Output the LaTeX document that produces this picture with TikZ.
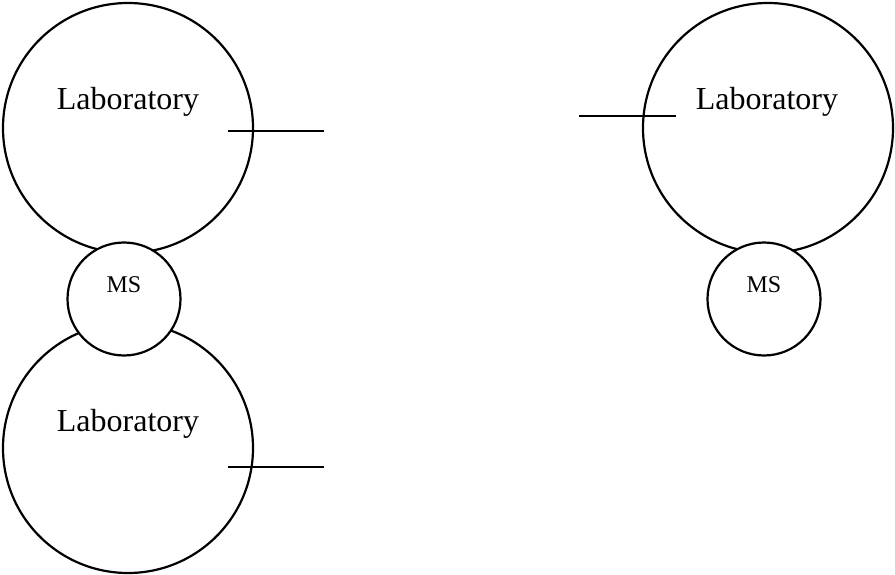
\documentclass[tikz,border=0pt]{standalone}
\usepackage{fontspec}
\setmainfont{Liberation Serif}
\begin{document}
\begin{tikzpicture}[x=1pt,y=-1pt,
  lab/.style={circle,draw,line width=2.2pt,minimum size=250pt,inner sep=0pt},
  ms/.style={circle,draw,line width=2.2pt,minimum size=113pt,inner sep=0pt,fill=white},
  labtext/.style={anchor=base,inner sep=0pt,font=\fontsize{32}{36}\selectfont},
  mstext/.style={anchor=base,inner sep=0pt,font=\fontsize{24}{28}\selectfont},
  stub/.style={line width=1.5pt}]
\useasboundingbox (0,0) rectangle (895,575);

% left column: two laboratories sharing one MS
\node[lab] (labA) at (128,128) {};
\node[lab] (labB) at (128,448) {};
\node[ms]  (msL)  at (124,299) {};
\node[labtext] (labAtxt) at (128,110) {Laboratory};
\node[labtext] (labBtxt) at (128,431) {Laboratory};
\node[mstext]  (msLtxt)  at (124,292) {MS};

% right column: one laboratory with its MS
\node[lab] (labC) at (768,128) {};
\node[ms]  (msR)  at (764,299) {};
\node[labtext] (labCtxt) at (767,110) {Laboratory};
\node[mstext]  (msRtxt)  at (764,292) {MS};

% interface stubs
\coordinate (a1) at (228,131); \coordinate (a2) at (324,131);
\coordinate (b1) at (228,467); \coordinate (b2) at (324,467);
\coordinate (c1) at (579,116); \coordinate (c2) at (676,116);
\draw[stub] (a1) -- (a2);
\draw[stub] (b1) -- (b2);
\draw[stub] (c1) -- (c2);
\end{tikzpicture}
\end{document}
